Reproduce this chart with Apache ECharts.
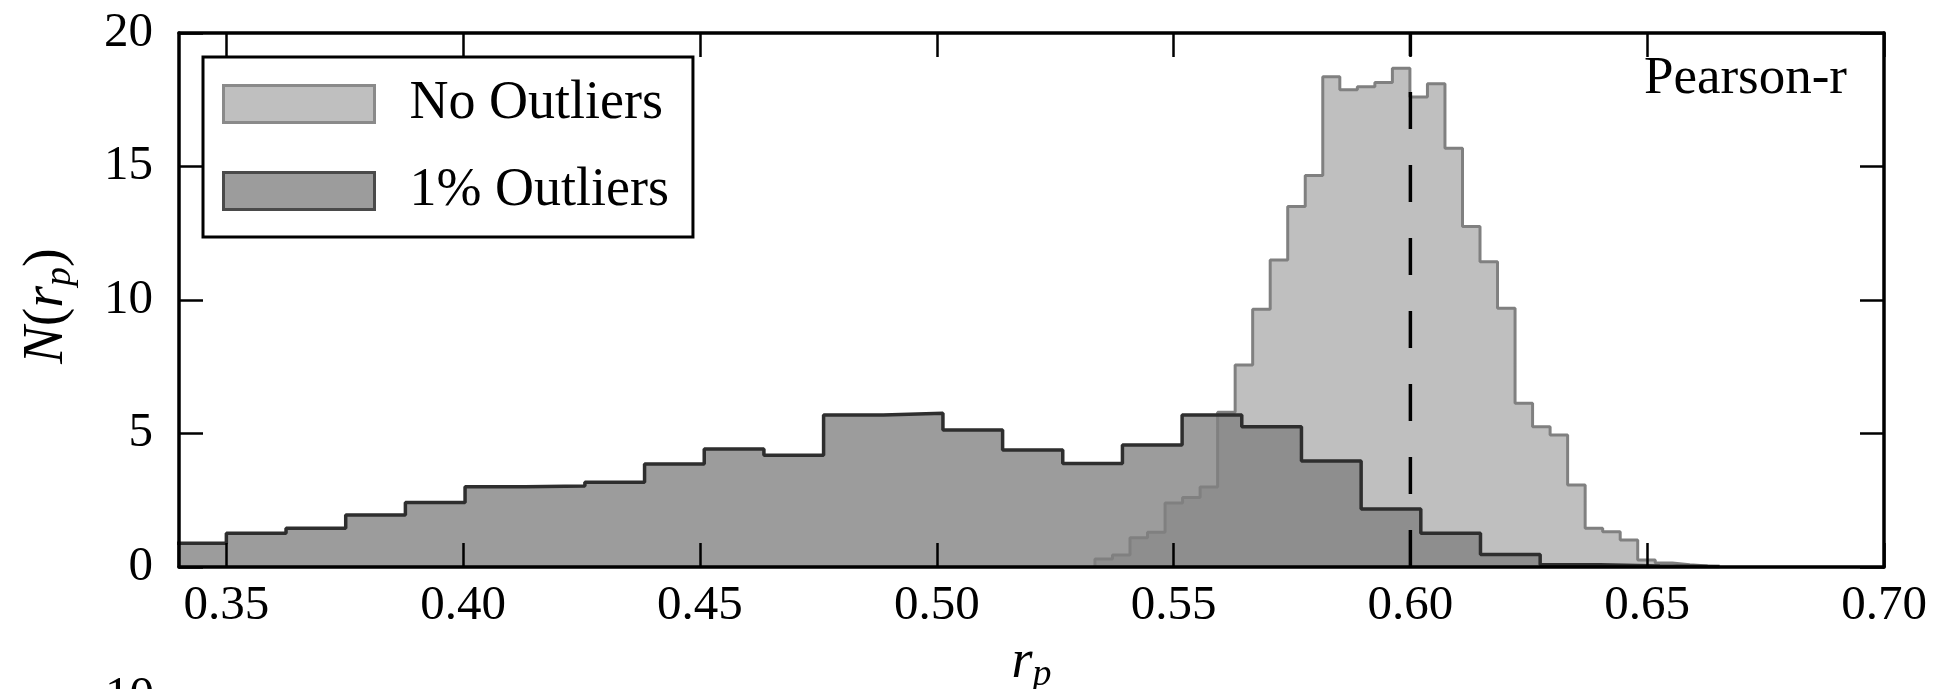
<!DOCTYPE html>
<html><head><meta charset="utf-8">
<script src="https://cdn.jsdelivr.net/npm/echarts@6/dist/echarts.min.js"></script>
<style>html,body{margin:0;padding:0;background:#fff}#c{width:1933px;height:689px}</style>
</head><body><div id="c"></div>
<script>
// ---- data ----
const xTicks = [0.35, 0.40, 0.45, 0.50, 0.55, 0.60, 0.65, 0.70];
const yTicks = [0, 5, 10, 15, 20];
const seriesNames = ['No Outliers', '1% Outliers'];
const annotation = 'Pearson-r';
const refValue = 0.60;
const refSpan = [0, 20];

// "No Outliers" histogram: bin edges and counts
const lightEdges = [0.5334, 0.5371, 0.5408, 0.5445, 0.5482, 0.5519, 0.5556, 0.5593, 0.5630, 0.5667,
  0.5704, 0.5741, 0.5778, 0.5815, 0.5851, 0.5888, 0.5925, 0.5962, 0.5999, 0.6036,
  0.6073, 0.6110, 0.6147, 0.6184, 0.6221, 0.6258, 0.6295, 0.6332, 0.6369, 0.6406,
  0.6443, 0.6480, 0.6517, 0.6553, 0.6590, 0.6627];
const lightCounts = [0.3, 0.45, 1.1, 1.3, 2.4, 2.6, 3.0, 5.8, 7.57, 9.65,
  11.5, 13.5, 14.66, 18.36, 17.87, 17.99, 18.15, 18.68, 17.6, 18.1,
  15.68, 12.75, 11.43, 9.69, 6.13, 5.25, 4.94, 3.07, 1.45, 1.32,
  1.01, 0.26, 0.15, 0.08, 0.04];

// "1% Outliers" histogram: bin edges and counts
const darkEdges = [0.3374, 0.3500, 0.3626, 0.3752, 0.3878, 0.4004, 0.4131, 0.4257, 0.4383, 0.4509,
  0.4635, 0.4761, 0.4887, 0.5013, 0.5139, 0.5266, 0.5392, 0.5518, 0.5644, 0.5770,
  0.5896, 0.6022, 0.6148, 0.6274, 0.6401, 0.6527, 0.6653];
const darkCounts = [0.89, 1.26, 1.45, 1.95, 2.42, 3.01, 3.03, 3.17, 3.86, 4.42,
  4.19, 5.69, 5.76, 5.13, 4.38, 3.88, 4.57, 5.69, 5.25, 3.97,
  2.17, 1.26, 0.47, 0.08, 0.04, 0.02];

// ---- build ----
function stepData(edges, counts) {
  const d = [[edges[0], 0]];
  for (let i = 0; i < counts.length; i++) d.push([edges[i], counts[i]]);
  d.push([edges[edges.length - 1], 0]);
  return d;
}
const SERIF = '"Liberation Serif", "DejaVu Serif", serif';
const lineBlack = { color: '#000', width: 3.5 };
const tickBlack = { color: '#000', width: 2.5 };

function xAx(pos, labels) {
  return {
    type: 'value', min: 0.34, max: 0.70, position: pos, z: 3,
    axisLine: { show: true, onZero: false, lineStyle: lineBlack },
    axisTick: { show: true, inside: true, length: 24, lineStyle: tickBlack, customValues: xTicks },
    axisLabel: labels ? { show: true, customValues: xTicks, formatter: v => v.toFixed(2),
      fontFamily: SERIF, fontSize: 49, color: '#000', margin: 15 } : { show: false },
    splitLine: { show: false }
  };
}
function yAx(pos, labels) {
  return {
    type: 'value', min: yTicks[0], max: yTicks[yTicks.length - 1], interval: 5, position: pos, z: 3,
    axisLine: { show: true, onZero: false, lineStyle: lineBlack },
    axisTick: { show: true, inside: true, length: 24, lineStyle: tickBlack },
    axisLabel: labels ? { show: true, fontFamily: SERIF, fontSize: 49, color: '#000', margin: 26 } : { show: false },
    splitLine: { show: false }
  };
}
const xBottom = xAx('bottom', true);
xBottom.name = '{r|r}{p|p}';
xBottom.nameLocation = 'middle';
xBottom.nameGap = 66;
xBottom.nameTextStyle = { color: '#000', rich: {
  r: { fontFamily: SERIF, fontStyle: 'italic', fontSize: 54, color: '#000', lineHeight: 54 },
  p: { fontFamily: SERIF, fontStyle: 'italic', fontSize: 38, color: '#000', lineHeight: 38, verticalAlign: 'bottom', padding: [0, 0, -4, 0] }
}};
const yLeft = yAx('left', true);
yLeft.name = '{i|N}{n|(}{i|r}{s|p}{n|)}';
yLeft.nameLocation = 'middle';
yLeft.nameRotate = 90;
yLeft.nameGap = 104;
yLeft.nameTextStyle = { color: '#000', padding: [0, 12, 0, 0], rich: {
  i: { fontFamily: SERIF, fontStyle: 'italic', fontSize: 56, color: '#000', lineHeight: 56 },
  n: { fontFamily: SERIF, fontSize: 56, color: '#000', lineHeight: 56 },
  s: { fontFamily: SERIF, fontStyle: 'italic', fontSize: 38, color: '#000', lineHeight: 38, verticalAlign: 'bottom', padding: [0, 0, -4, 0] }
}};

const chart = echarts.init(document.getElementById('c'), null, { renderer: 'canvas' });
chart.setOption({
  animation: false,
  backgroundColor: '#ffffff',
  grid: { left: 179, right: 49, top: 33, bottom: 122, containLabel: false, outerBoundsMode: 'none' },
  xAxis: [xBottom, xAx('top', false)],
  yAxis: [yLeft, yAx('right', false)],
  legend: {
    orient: 'vertical', left: 203, top: 57,
    padding: [20, 24, 19, 19],
    itemWidth: 151, itemHeight: 37, itemGap: 33,
    backgroundColor: '#ffffff', borderColor: '#000', borderWidth: 3, borderRadius: 0,
    selectedMode: false,
    textStyle: { fontFamily: SERIF, fontSize: 54, color: '#000', padding: [0, 0, 0, 30] },
    data: [
      { name: seriesNames[0], icon: 'rect', itemStyle: { color: '#bfbfbf', borderColor: '#8a8a8a', borderWidth: 3 } },
      { name: seriesNames[1], icon: 'rect', itemStyle: { color: '#9c9c9c', borderColor: '#4a4a4a', borderWidth: 3 } }
    ]
  },
  graphic: [
    { type: 'text', x: 1847, y: 53, style: { text: annotation, font: '53px ' + SERIF, fill: '#000', textAlign: 'right', textVerticalAlign: 'top' } },
    { type: 'text', x: 154, y: 673, style: { text: '10', font: '49px ' + SERIF, fill: '#000', textAlign: 'right', textVerticalAlign: 'top' } }
  ],
  series: [
    { name: seriesNames[0], type: 'line', step: 'end', data: stepData(lightEdges, lightCounts),
      symbol: 'none', silent: true, z: 2,
      lineStyle: { color: '#808080', width: 3 }, itemStyle: { color: '#bfbfbf' },
      areaStyle: { color: '#bfbfbf', opacity: 1, origin: 'start' } },
    { name: seriesNames[1], type: 'line', step: 'end', data: stepData(darkEdges, darkCounts),
      symbol: 'none', silent: true, z: 2,
      lineStyle: { color: '#2e2e2e', width: 3.5 }, itemStyle: { color: '#9c9c9c' },
      areaStyle: { color: '#808080', opacity: 0.78, origin: 'start' } },
    { name: 'ref', type: 'line', data: [[refValue, refSpan[0]], [refValue, refSpan[1]]],
      symbol: 'none', silent: true, z: 4,
      lineStyle: { color: '#000', width: 3.5, type: [37, 36] } }
  ]
});
</script></body></html>
